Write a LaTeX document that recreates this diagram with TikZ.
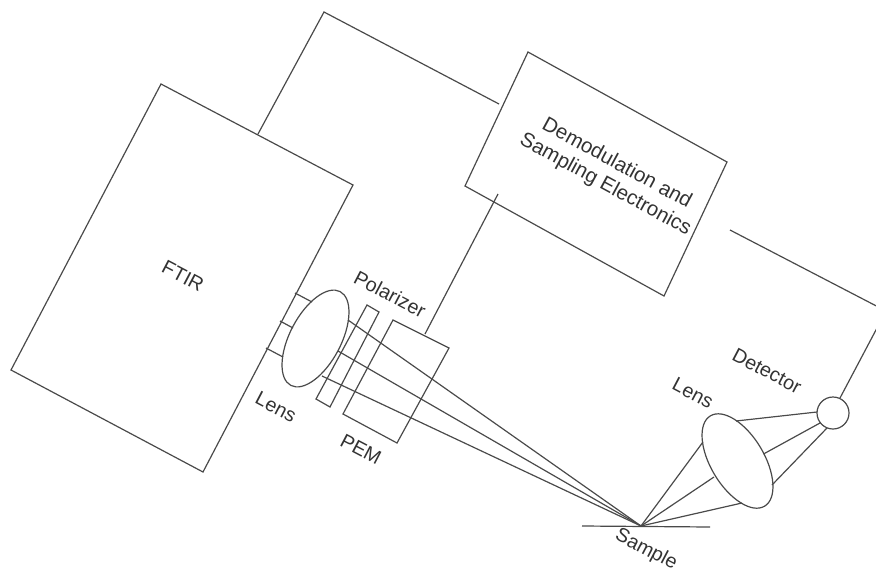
\documentclass[tikz,border=0pt]{standalone}
\usepackage{fontspec}
\setmainfont{Liberation Sans}
\usetikzlibrary{shapes.geometric}
\definecolor{ink}{HTML}{4A4A4A}
\definecolor{txt}{HTML}{333333}
\tikzset{
  wire/.style={draw=ink,line width=0.9pt},
  lens/.style={ellipse,draw=ink,line width=0.9pt,inner sep=0pt},
  lab/.style={text=txt,font=\fontsize{14.8}{17.5}\selectfont,align=center,inner sep=0pt,rotate=-27.7},
  bigger/.style={text=txt,font=\fontsize{15.4}{18}\selectfont,align=center,inner sep=0pt,rotate=-28.5}
}
\begin{document}
\begin{tikzpicture}[x=0.75pt,y=-0.75pt]
\useasboundingbox (0,0) rectangle (876,572);
\clip (0,0) rectangle (876,572);
% boxes
\coordinate (f1) at (161,84); \coordinate (f2) at (353,185); \coordinate (f3) at (203,472); \coordinate (f4) at (11,370);
\coordinate (d1) at (528,52); \coordinate (d2) at (727,162); \coordinate (d3) at (664,296); \coordinate (d4) at (465,186);
\coordinate (p1) at (367,305); \coordinate (p2) at (379,312); \coordinate (p3) at (330,407); \coordinate (p4) at (316,399);
\coordinate (e1) at (393,320); \coordinate (e2) at (449,348); \coordinate (e3) at (397,443); \coordinate (e4) at (343,414);
\draw[wire] (f1)--(f2)--(f3)--(f4)--cycle;
\draw[wire] (d1)--(d2)--(d3)--(d4)--cycle;
\draw[wire] (p1)--(p2)--(p3)--(p4)--cycle;
\draw[wire] (e1)--(e2)--(e3)--(e4)--cycle;
% electronics wiring
\coordinate (w1) at (258,134); \coordinate (w2) at (324,12); \coordinate (w3) at (499,104);
\coordinate (w4) at (498,194); \coordinate (w5) at (425,334);
\coordinate (w6) at (730,230); \coordinate (w7) at (886,311); \coordinate (w8) at (840,398);
\draw[wire] (w1)--(w2)--(w3);
\draw[wire] (w4)--(w5);
\draw[wire] (w6)--(w7)--(w8);
% lenses and detector
\node[lens,rotate=-27.7,minimum width=38.4pt,minimum height=79.5pt] (lensL) at (315.5,338.5) {};
\node[lens,rotate=31,minimum width=40pt,minimum height=79pt] (lensR) at (737.5,461) {};
\node[circle,draw=ink,line width=0.9pt,minimum size=24pt,inner sep=0pt] (det) at (833,413) {};
\coordinate (samp) at (641,526);
% FTIR to lens
\coordinate (a1) at (295,293); \coordinate (a2) at (312,302);
\coordinate (b1) at (280,321); \coordinate (b2) at (293,328);
\coordinate (c1) at (266,348); \coordinate (c2) at (283,357);
\draw[wire] (a1)--(a2); \draw[wire] (b1)--(b2); \draw[wire] (c1)--(c2);
% beams
\coordinate (r1) at (348,320); \coordinate (r2) at (338,351); \coordinate (r3) at (322,376);
\draw[wire] (r1)--(samp); \draw[wire] (r2)--(samp); \draw[wire] (r3)--(samp);
\coordinate (s1) at (703,442); \coordinate (s2) at (714,477); \coordinate (s3) at (742,503);
\draw[wire] (samp)--(s1); \draw[wire] (samp)--(s2); \draw[wire] (samp)--(s3);
\coordinate (t1) at (736,421); \coordinate (t2) at (763.5,454); \coordinate (t3) at (772,485);
\coordinate (u1) at (817,412); \coordinate (u2) at (820,423); \coordinate (u3) at (827,428);
\draw[wire] (t1)--(u1); \draw[wire] (t2)--(u2); \draw[wire] (t3)--(u3);
\coordinate (sl) at (582,526); \coordinate (sr) at (710,527);
\draw[wire] (sl)--(sr);
% labels
\node[lab] (tF) at (183,276) {FTIR};
\node[bigger] (tD) at (611,174.5) {Demodulation and\\Sampling Electronics};
\node[lab] (tP) at (390,294) {Polarizer};
\node[lab] (tL) at (276,407) {Lens};
\node[lab] (tE) at (361,449) {PEM};
\node[lab] (tR) at (693,393) {Lens};
\node[lab] (tT) at (767,371) {Detector};
\node[lab] (tS) at (646,550) {Sample};
\end{tikzpicture}
\end{document}
